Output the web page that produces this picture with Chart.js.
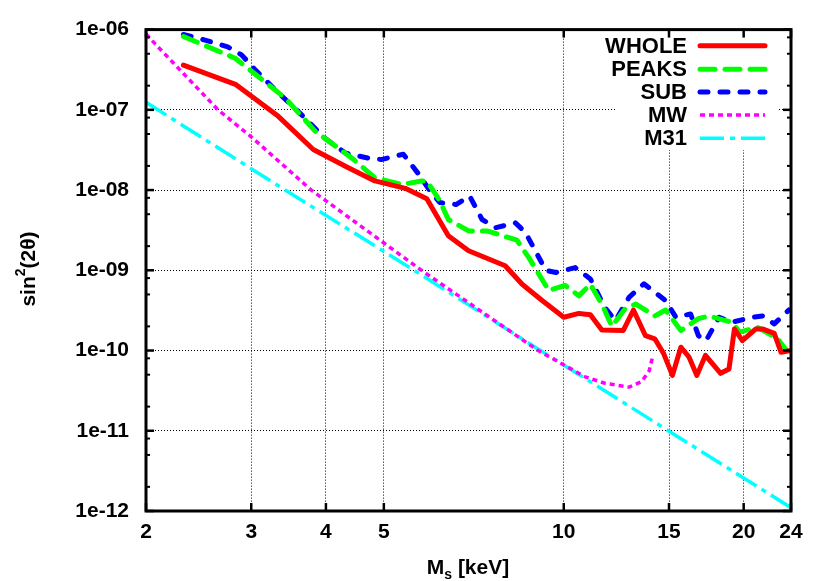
<!DOCTYPE html>
<html>
<head>
<meta charset="utf-8">
<script src="https://cdn.jsdelivr.net/npm/chart.js@4.4.1/dist/chart.umd.min.js"></script>
<style>
html,body{margin:0;padding:0;background:#fff}
canvas{display:block}
</style>
</head>
<body>
<canvas id="chart" width="830" height="581"></canvas>
<script>
/* ticks */
const xTicks = [2, 3, 4, 5, 10, 15, 20, 24];
const yTicks = [1e-12, 1e-11, 1e-10, 1e-9, 1e-8, 1e-7, 1e-6];
const yMinor = [2, 5, 8];

/* WHOLE */
const wholeX = [2.31, 2.83, 3.33, 3.81, 4.36, 4.83, 5.43, 5.9, 6.41, 6.93, 7.98, 8.52, 9.2, 10.0, 10.6, 11.08, 11.58, 12.58, 13.08, 13.7, 14.2, 14.7, 15.2, 15.7, 16.2, 16.7, 17.26, 18.3, 18.9, 19.3, 19.9, 20.96, 21.5, 22.5, 23.1, 24];
const wholeY = [3.6e-7, 2.06e-7, 8.3e-8, 3.2e-8, 1.9e-8, 1.3e-8, 1.05e-8, 7.8e-9, 2.7e-9, 1.75e-9, 1.14e-9, 6.7e-10, 4.2e-10, 2.6e-10, 2.9e-10, 2.8e-10, 1.8e-10, 1.78e-10, 3.2e-10, 1.53e-10, 1.4e-10, 9.1e-11, 4.9e-11, 1.1e-10, 8.3e-11, 4.9e-11, 8.7e-11, 5.2e-11, 5.9e-11, 1.86e-10, 1.33e-10, 1.86e-10, 1.86e-10, 1.64e-10, 9.5e-11, 1e-10];

/* PEAKS */
const peaksX = [2.31, 2.82, 2.96, 3.42, 3.84, 4.42, 4.83, 5.36, 5.78, 5.9, 6.2, 6.41, 6.93, 7.44, 8.35, 8.74, 9.44, 10.05, 10.6, 11.08, 11.58, 12.04, 12.66, 13.2, 14.2, 14.8, 15.7, 16.8, 17.5, 19.1, 19.7, 21.1, 22.1, 22.8, 23.6];
const peaksY = [8.2e-7, 4.4e-7, 3.3e-7, 1.4e-7, 5.4e-8, 2.5e-8, 1.42e-8, 1.17e-8, 1.3e-8, 1.3e-8, 7.4e-9, 4.3e-9, 3.1e-9, 3.1e-9, 2.37e-9, 1.44e-9, 5.6e-10, 6.5e-10, 4.8e-10, 6.7e-10, 3.8e-10, 2.0e-10, 3.3e-10, 3.8e-10, 2.7e-10, 3.2e-10, 1.78e-10, 2.5e-10, 2.7e-10, 2.25e-10, 1.7e-10, 1.95e-10, 1.6e-10, 1.4e-10, 1.0e-10];

/* SUB */
const subX = [2.31, 2.51, 2.74, 2.89, 3.04, 3.29, 3.64, 3.98, 4.31, 4.71, 4.95, 5.39, 5.71, 5.96, 6.2, 6.6, 6.96, 7.3, 7.7, 8.3, 8.63, 9.33, 9.7, 10.45, 11.08, 11.73, 12.2, 12.86, 13.62, 14.8, 15.4, 16.3, 16.8, 17.3, 18.2, 19.1, 20.7, 21.5, 22.5, 23.8];
const subY = [8.7e-7, 7.4e-7, 6.1e-7, 4.85e-7, 3.2e-7, 1.78e-7, 8.7e-8, 4.45e-8, 2.9e-8, 2.5e-8, 2.4e-8, 2.8e-8, 1.6e-8, 1.0e-8, 7.0e-9, 6.6e-9, 8.4e-9, 4.3e-9, 3.4e-9, 3.9e-9, 2.95e-9, 1.0e-9, 9.4e-10, 1.08e-9, 7.8e-10, 3.4e-10, 2.36e-10, 4.6e-10, 6.8e-10, 4.2e-10, 2.6e-10, 2.86e-10, 1.53e-10, 1.33e-10, 2.6e-10, 2.25e-10, 2.6e-10, 2.7e-10, 2.15e-10, 3.2e-10];

/* MW */
const mwX = [2, 2.09, 2.64, 3, 3.78, 5.78, 9.06, 10.86, 11.73, 12.86, 13.5, 13.9, 14.1];
const mwY = [8.8e-7, 6.2e-7, 1e-7, 4.6e-8, 1e-8, 1e-9, 1e-10, 4.7e-11, 3.9e-11, 3.5e-11, 4.1e-11, 5.6e-11, 8.7e-11];

/* M31 */
const m31X = [2, 3.35, 5.56, 8.96, 24];
const m31Y = [1.24e-7, 1.1e-8, 1.05e-9, 1.1e-10, 1.1e-12];

const FONT = '"Liberation Sans", Arial, Helvetica, sans-serif';

function pts(xs, ys){
  return xs.map((x, i) => ({x: x, y: ys[i]}));
}

function line(label, xs, ys, color, width, dash, cap){
  return {
    label: label,
    data: pts(xs, ys),
    borderColor: color,
    borderWidth: width,
    borderDash: dash,
    borderCapStyle: cap,
    borderJoinStyle: 'round',
    pointRadius: 0,
    tension: 0,
    fill: false
  };
}

/* white key box, drawn over the grid */
const keyBox = {
  id: 'keyBox',
  beforeDatasetsDraw(chart){
    const ctx = chart.ctx;
    ctx.save();
    ctx.fillStyle = '#fff';
    ctx.fillRect(617, 34, 160, 116);
    ctx.restore();
  }
};

/* frame and inward ticks */
const frame = {
  id: 'frame',
  afterDatasetsDraw(chart){
    const ctx = chart.ctx;
    const a = chart.chartArea;
    const sx = chart.scales.x, sy = chart.scales.y;
    ctx.save();
    ctx.strokeStyle = '#000';
    ctx.lineCap = 'butt';
    function seg(x1, y1, x2, y2, w){
      ctx.lineWidth = w;
      ctx.beginPath();
      ctx.moveTo(x1, y1);
      ctx.lineTo(x2, y2);
      ctx.stroke();
    }
    yTicks.forEach(v => {
      const py = sy.getPixelForValue(v);
      seg(a.left, py, a.left + 8, py, 2.5);
      seg(a.right, py, a.right - 8, py, 2.5);
      if (v < 1e-6) {
        yMinor.forEach(m => {
          const q = sy.getPixelForValue(m * v);
          seg(a.left, q, a.left + 4, q, 2);
          seg(a.right, q, a.right - 4, q, 2);
        });
      }
    });
    xTicks.forEach(v => {
      const px = sx.getPixelForValue(v);
      seg(px, a.bottom, px, a.bottom - 8, 2.5);
      seg(px, a.top, px, a.top + 8, 2.5);
    });
    ctx.lineWidth = 3;
    ctx.strokeRect(a.left, a.top, a.right - a.left, a.bottom - a.top);
    ctx.restore();
  }
};

/* key: text right aligned, sample line on the right */
const key = {
  id: 'key',
  afterDatasetsDraw(chart){
    const ctx = chart.ctx;
    const rows = [45.7, 69.3, 92, 115, 138.3];
    ctx.save();
    ctx.font = 'bold 22px ' + FONT;
    ctx.textAlign = 'right';
    ctx.textBaseline = 'middle';
    chart.data.datasets.forEach((ds, i) => {
      const y = rows[i];
      ctx.fillStyle = '#000';
      ctx.fillText(ds.label, 687, y + 1);
      ctx.strokeStyle = ds.borderColor;
      ctx.lineWidth = ds.borderWidth;
      ctx.lineCap = ds.borderCapStyle;
      ctx.setLineDash(ds.borderDash);
      ctx.beginPath();
      ctx.moveTo(700, y);
      ctx.lineTo(765, y);
      ctx.stroke();
      ctx.setLineDash([]);
    });
    ctx.restore();
  }
};

/* axis titles with sub / superscript */
const titles = {
  id: 'titles',
  afterDraw(chart){
    const ctx = chart.ctx;
    ctx.save();
    ctx.fillStyle = '#000';
    ctx.textBaseline = 'alphabetic';
    ctx.textAlign = 'left';
    const big = 'bold 21px ' + FONT, small = 'bold 14px ' + FONT;

    // x title: Ms [keV]
    ctx.font = big;
    const wM = ctx.measureText('M').width;
    const wR = ctx.measureText(' [keV]').width;
    ctx.font = small;
    const wS = ctx.measureText('s').width;
    let x0 = 468 - (wM + wS + wR) / 2;
    ctx.font = big;
    ctx.fillText('M', x0, 574);
    ctx.font = small;
    ctx.fillText('s', x0 + wM, 579);
    ctx.font = big;
    ctx.fillText(' [keV]', x0 + wM + wS, 574);

    // y title: sin2(2θ)
    ctx.translate(35, 269);
    ctx.rotate(-Math.PI / 2);
    ctx.font = big;
    const a = ctx.measureText('sin').width;
    const c = ctx.measureText('(2θ)').width;
    ctx.font = small;
    const b = ctx.measureText('2').width;
    let y0 = -(a + b + c) / 2;
    ctx.font = big;
    ctx.fillText('sin', y0, 0);
    ctx.font = small;
    ctx.fillText('2', y0 + a, -10);
    ctx.font = big;
    ctx.fillText('(2θ)', y0 + a + b, 0);
    ctx.restore();
  }
};

const tickFont = {family: FONT, size: 21, weight: 'bold'};

new Chart(document.getElementById('chart'), {
  type: 'line',
  data: {
    datasets: [
      line('WHOLE', wholeX, wholeY, '#ff0000', 5, [], 'round'),
      line('PEAKS', peaksX, peaksY, '#00ff00', 5, [15, 10], 'round'),
      line('SUB', subX, subY, '#0000ff', 5, [8, 12], 'round'),
      line('MW', mwX, mwY, '#ff00ff', 3.5, [5, 4], 'butt'),
      line('M31', m31X, m31Y, '#00ffff', 3.5, [24, 6, 5, 6], 'butt')
    ]
  },
  options: {
    responsive: false,
    animation: false,
    devicePixelRatio: 1,
    layout: {padding: {left: 0, right: 39, top: 28, bottom: 0}},
    plugins: {legend: {display: false}, tooltip: {enabled: false}},
    scales: {
      x: {
        type: 'logarithmic',
        min: 2,
        max: 24,
        afterBuildTicks: s => { s.ticks = xTicks.map(v => ({value: v})); },
        afterFit: s => { s.height = 70; },
        ticks: {
          autoSkip: false,
          maxRotation: 0,
          padding: 9,
          color: '#000',
          font: tickFont,
          callback: v => String(v)
        },
        grid: {color: '#000', lineWidth: 1, drawTicks: false},
        border: {display: false, dash: [1, 2]}
      },
      y: {
        type: 'logarithmic',
        min: 1e-12,
        max: 1e-6,
        afterBuildTicks: s => { s.ticks = yTicks.map(v => ({value: v})); },
        afterFit: s => { s.width = 146; },
        ticks: {
          autoSkip: false,
          padding: 17,
          color: '#000',
          font: tickFont,
          callback: v => '1e-' + String(-Math.round(Math.log10(v))).padStart(2, '0')
        },
        grid: {color: '#000', lineWidth: 1, drawTicks: false},
        border: {display: false, dash: [1, 2]}
      }
    }
  },
  plugins: [keyBox, frame, key, titles]
});
</script>
</body>
</html>
